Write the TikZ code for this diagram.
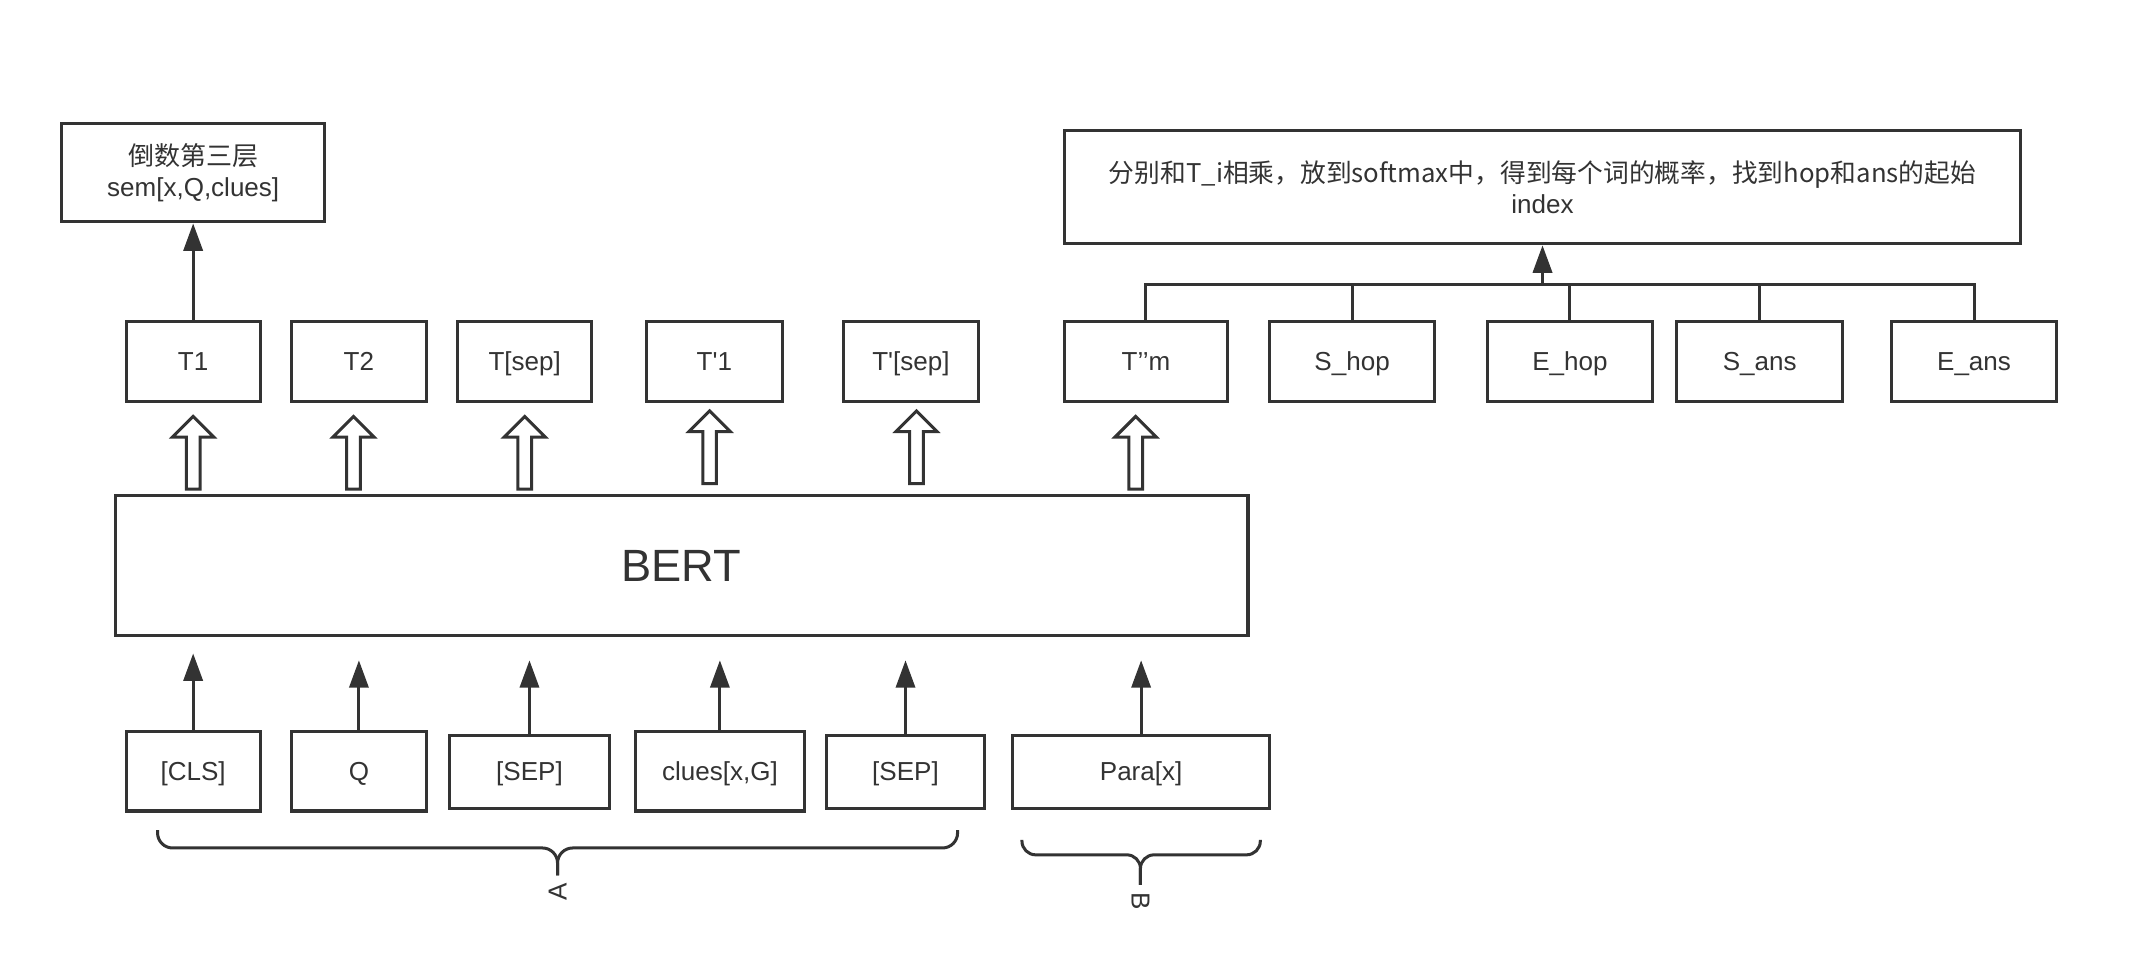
\documentclass[tikz,border=0pt]{standalone}
\usepackage{fontspec}
\setmainfont{Liberation Sans}
\newfontfamily\cjk{Noto Sans CJK SC}
\usetikzlibrary{arrows.meta}
\definecolor{ink}{HTML}{333333}
\tikzset{
  box/.style={draw=ink, line width=2.2pt, fill=white, text=ink, inner sep=0pt,
    font=\fontsize{19}{23}\selectfont, align=center},
  tok/.style={box, text height=17pt, text depth=4pt},
  ln/.style={draw=ink, line width=2.2pt},
  arr/.style={draw=ink, line width=2.2pt, -{Triangle[length=20pt,width=14pt]}},
  blk/.style={draw=ink, line width=2.2pt, fill=white, line join=miter},
  brc/.style={draw=ink, line width=2.2pt, rounded corners=#1},
  lbl/.style={text=ink, inner sep=0pt, font=\fontsize{19}{23}\selectfont},
}
\newcommand\blkarrow[3]{%
  \draw[blk] (#1-5,#2) -- (#1-5,#3+15) -- (#1-15,#3+15) -- (#1,#3)
    -- (#1+15,#3+15) -- (#1+5,#3+15) -- (#1+5,#2) -- cycle;}
\newcommand\bracedown[7]{% x1 x2 xm ytop yh ytip r
  \draw[brc=#7] (#1,#4) -- (#1,#5) -- (#3,#5) -- (#3,#6);
  \draw[brc=#7] (#2,#4) -- (#2,#5) -- (#3,#5) -- (#3,#6);}
\begin{document}
\begin{tikzpicture}[x=1pt,y=-1pt]
\useasboundingbox (0,0) rectangle (1568,702);

% top boxes
\node[box, minimum width=192pt, minimum height=72pt] (sem) at (141,126)
  {{\cjk 倒数第三层}\\sem[x,Q,clues]};
\node[box, minimum width=698pt, minimum height=83pt] (top) at (1126,136.5)
  {{\cjk\fontsize{18.8}{23}\selectfont 分别和T\_i相乘，放到softmax中，得到每个词的概率，找到hop和ans的起始}\\index};

% output tokens
\node[tok, minimum width=98pt, minimum height=58pt] (T1) at (141,264) {T1};
\node[tok, minimum width=98pt, minimum height=58pt] (T2) at (262,264) {T2};
\node[tok, minimum width=98pt, minimum height=58pt] (Tsep) at (383,264) {T[sep]};
\node[tok, minimum width=99pt, minimum height=58pt] (Tp1) at (521.5,264) {T\textquotesingle 1};
\node[tok, minimum width=98pt, minimum height=58pt] (Tpsep) at (665,264) {T\textquotesingle [sep]};
\node[tok, minimum width=119pt, minimum height=58pt] (Tm) at (836.5,264) {T’’m};
\node[tok, minimum width=120pt, minimum height=58pt] (Shop) at (987,264) {S\_hop};
\node[tok, minimum width=120pt, minimum height=58pt] (Ehop) at (1146,264) {E\_hop};
\node[tok, minimum width=121pt, minimum height=58pt] (Sans) at (1284.5,264) {S\_ans};
\node[tok, minimum width=120pt, minimum height=58pt] (Eans) at (1441,264) {E\_ans};

% BERT
\node[box, minimum width=827pt, minimum height=102pt, font=\fontsize{33}{38}\selectfont]
  (bert) at (497.5,413) {BERT};

% inputs
\node[tok, minimum width=98pt, minimum height=58pt] (CLS) at (141,563) {[CLS]};
\node[tok, minimum width=98pt, minimum height=58pt] (Q) at (262,563) {Q};
\node[tok, minimum width=117pt, minimum height=53pt] (SEPa) at (386.5,563.5) {[SEP]};
\node[tok, minimum width=123pt, minimum height=58pt] (clues) at (525.5,563) {clues[x,G]};
\node[tok, minimum width=116pt, minimum height=53pt] (SEPb) at (661,563.5) {[SEP]};
\node[tok, minimum width=188pt, minimum height=53pt] (Para) at (833,563.5) {Para[x]};

% connectors
\draw[arr] (T1.north) -- (sem.south);
\coordinate (bus) at (1126,208);
\draw[ln] (Tm.north) |- (Eans.north |- bus) -- (Eans.north);
\draw[ln] (Shop.north) -- (Shop.north |- bus);
\draw[ln] (Ehop.north) -- (Ehop.north |- bus);
\draw[ln] (Sans.north) -- (Sans.north |- bus);
\draw[arr] (top.south |- bus) -- (top.south);

\draw[arr] (CLS.north) -- (CLS.north |- 0,477);
\draw[arr] (Q.north) -- (Q.north |- 0,482);
\draw[arr] (SEPa.north) -- (SEPa.north |- 0,482);
\draw[arr] (clues.north) -- (clues.north |- 0,482);
\draw[arr] (SEPb.north) -- (SEPb.north |- 0,482);
\draw[arr] (Para.north) -- (Para.north |- 0,482);

% block arrows
\blkarrow{141}{357}{304}
\blkarrow{258}{357}{304}
\blkarrow{383}{357}{304}
\blkarrow{518}{353}{300}
\blkarrow{669}{353}{300}
\blkarrow{829}{357}{304}

% braces
\bracedown{115}{699}{407}{606}{619}{639}{11pt}
\bracedown{746}{920}{832.5}{613}{624}{646}{10pt}
\node[lbl, rotate=90] (labA) at (407,651) {A};
\node[lbl, rotate=-90] (labB) at (832.5,658) {B};
\end{tikzpicture}
\end{document}
